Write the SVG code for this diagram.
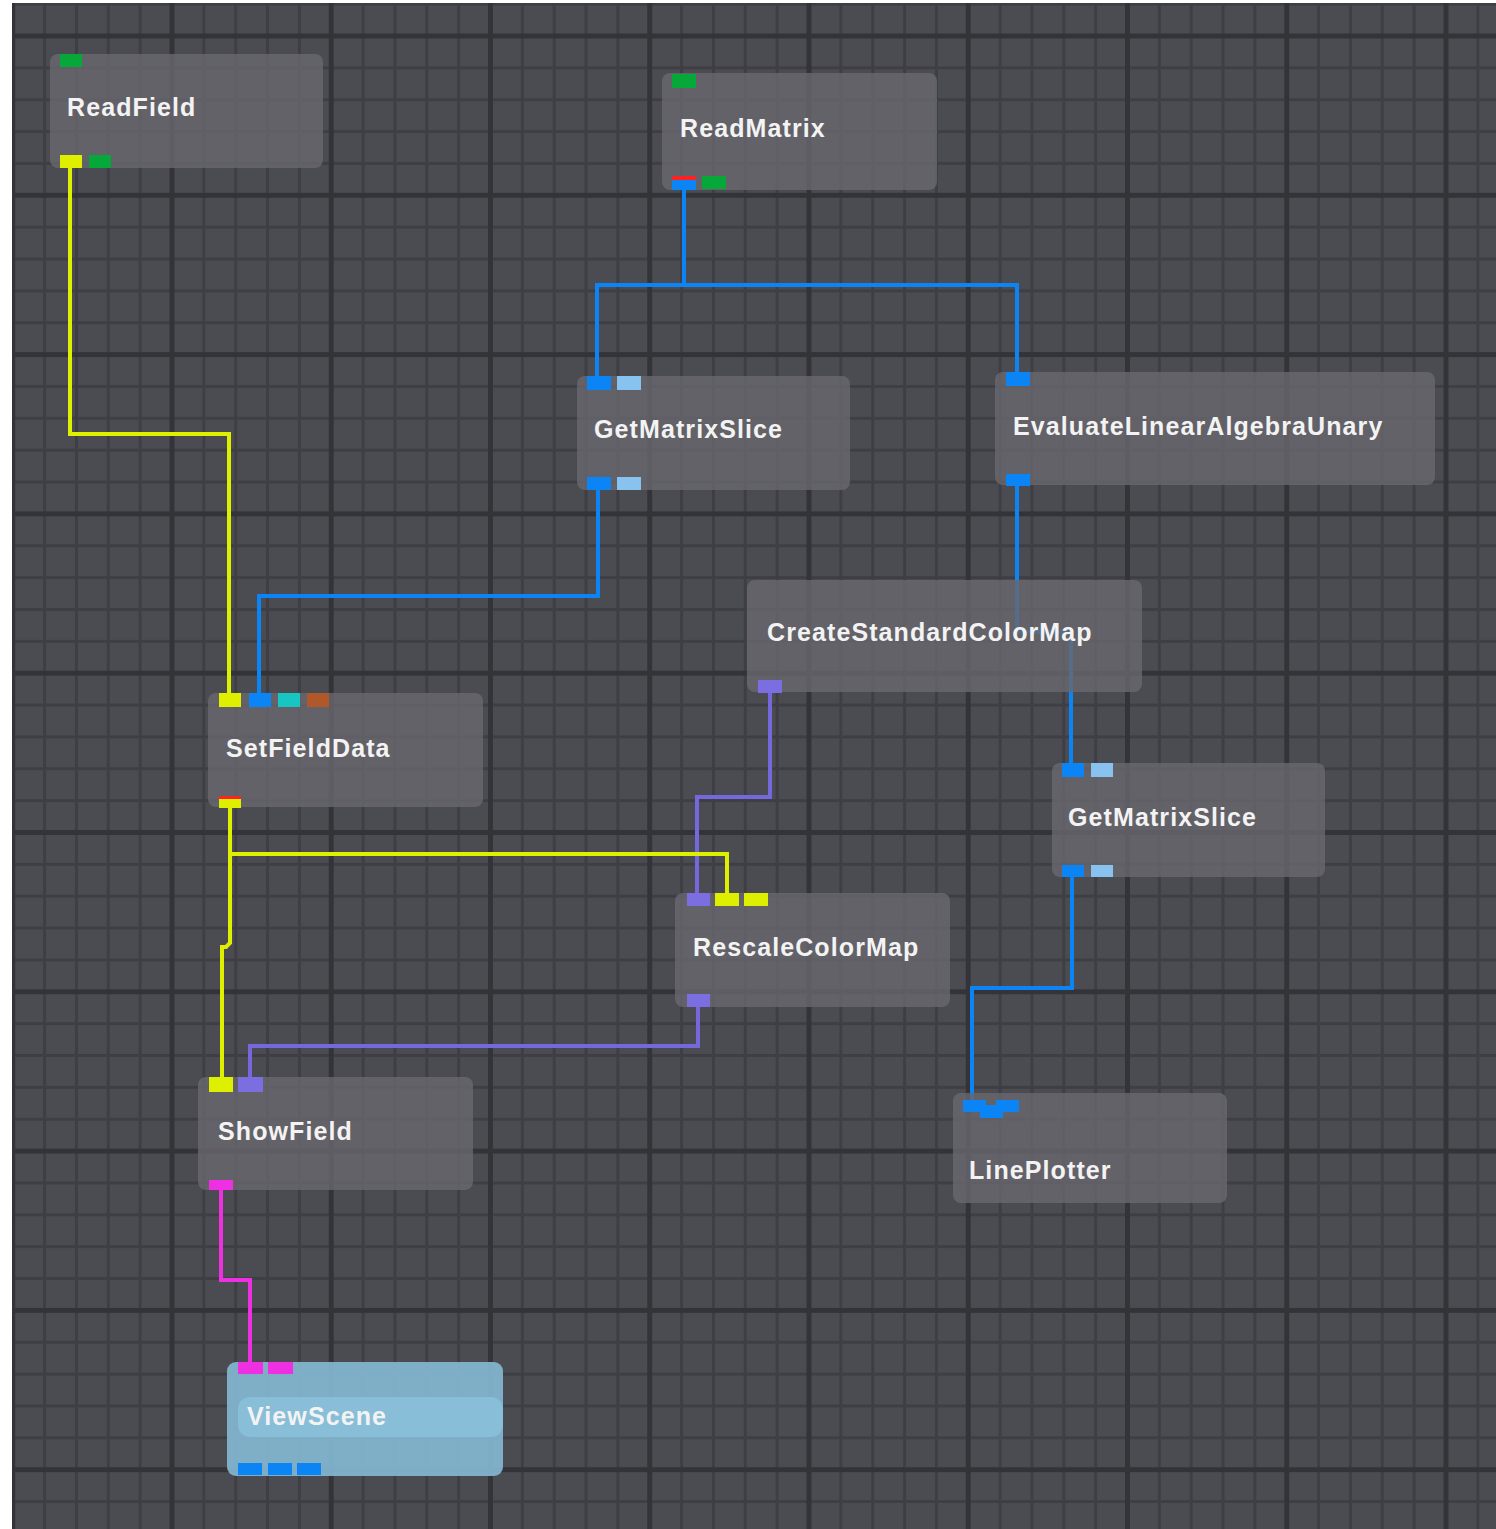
<svg xmlns="http://www.w3.org/2000/svg" width="1496" height="1529" viewBox="0 0 1496 1529">
<style>
.node{fill:#69686e;fill-opacity:0.8}
.lbl{font-family:"Liberation Sans",Arial,sans-serif;font-weight:bold;font-size:25px;letter-spacing:1.1px;fill:#f3f3f3}
.edge{fill:none;stroke-width:4;stroke-linejoin:miter}
.g{fill:#07a83a}.y{fill:#dfef00}.b{fill:#0b84f5}.lb{fill:#88c2ef}.c{fill:#17c5c3}.br{fill:#b0582a}.p{fill:#7a6ee0}.m{fill:#ee2fe2}.r{fill:#ff2222}
</style>
<defs>
<pattern id="minor" patternUnits="userSpaceOnUse" x="11.25" y="34.5" width="31.85" height="31.86">
<rect x="0" y="0" width="3" height="31.86" fill="#3e3e44"/>
<rect x="0" y="0" width="31.85" height="3" fill="#3e3e44"/>
</pattern>
<pattern id="major" patternUnits="userSpaceOnUse" x="10.25" y="33.5" width="159.25" height="159.3">
<rect x="0" y="0" width="5" height="159.3" fill="#333338"/>
<rect x="0" y="0" width="159.25" height="5" fill="#333338"/>
</pattern>
</defs>
<rect width="1496" height="1529" fill="#ffffff"/>
<g id="grid">
<rect x="12" y="3" width="1484" height="1526" fill="#4b4c52"/>
<rect x="12" y="3" width="1484" height="1526" fill="url(#minor)"/>
<rect x="12" y="3" width="1484" height="1526" fill="url(#major)"/>
</g>
<g id="connectors">
<path class="edge" stroke="#dfef00" d="M70,168 V434 H229 V693"/>
<path class="edge" stroke="#0b84f5" d="M684,190 V285"/>
<path class="edge" stroke="#0b84f5" d="M597,376 V285 H1017 V372"/>
<path class="edge" stroke="#0b84f5" d="M598,490 V596 H259 V693"/>
<path class="edge" stroke="#0b84f5" d="M1017,486 V632 H1071 V763"/>
<path class="edge" stroke="#7468dc" d="M770,693 V797 H697 V893"/>
<path class="edge" stroke="#dfef00" d="M230,808 V854 H727 V893"/>
<path class="edge" stroke="#dfef00" d="M230,854 V943 L226,947 H222 V1077"/>
<path class="edge" stroke="#7468dc" d="M698,1007 V1046 H250 V1077"/>
<path class="edge" stroke="#0b84f5" d="M1072,877 V988 H972 V1100"/>
<path class="edge" stroke="#ee2fe2" d="M221,1190 V1280 H250 V1362"/>
</g>
<g id="ReadField">
<rect class="node" x="50" y="54" width="273" height="114" rx="8"/>
<rect class="g" x="60" y="54" width="22" height="13"/>
<rect class="y" x="60" y="155" width="22" height="13"/>
<rect class="g" x="89" y="155" width="22" height="13"/>
<text class="lbl" x="67" y="116">ReadField</text>
</g>
<g id="ReadMatrix">
<rect class="node" x="662" y="73" width="275" height="117" rx="8"/>
<rect class="g" x="672" y="74" width="24" height="14"/>
<rect class="r" x="672" y="176" width="24" height="4"/>
<rect class="b" x="672" y="180" width="24" height="10"/>
<rect class="g" x="702" y="176" width="24" height="13"/>
<text class="lbl" x="680" y="137">ReadMatrix</text>
</g>
<g id="GetMatrixSlice1">
<rect class="node" x="577" y="376" width="273" height="114" rx="8"/>
<rect class="b" x="587" y="376" width="24" height="14"/>
<rect class="lb" x="617" y="376" width="24" height="14"/>
<rect class="b" x="587" y="477" width="24" height="13"/>
<rect class="lb" x="617" y="477" width="24" height="13"/>
<text class="lbl" x="594" y="438">GetMatrixSlice</text>
</g>
<g id="EvaluateLinearAlgebraUnary">
<rect class="node" x="995" y="372" width="440" height="113" rx="8"/>
<rect class="b" x="1006" y="372" width="24" height="14"/>
<rect class="b" x="1006" y="474" width="24" height="12"/>
<text class="lbl" x="1013" y="435">EvaluateLinearAlgebraUnary</text>
</g>
<g id="CreateStandardColorMap">
<rect class="node" x="747" y="580" width="395" height="112" rx="8"/>
<rect class="p" x="758" y="680" width="24" height="13"/>
<text class="lbl" x="767" y="641">CreateStandardColorMap</text>
</g>
<g id="SetFieldData">
<rect class="node" x="208" y="693" width="275" height="114" rx="8"/>
<rect class="y" x="219" y="693" width="22" height="14"/>
<rect class="b" x="249" y="693" width="22" height="14"/>
<rect class="c" x="278" y="693" width="22" height="14"/>
<rect class="br" x="307" y="693" width="22" height="14"/>
<rect class="r" x="219" y="796" width="22" height="3"/>
<rect class="y" x="219" y="799" width="22" height="9"/>
<text class="lbl" x="226" y="757">SetFieldData</text>
</g>
<g id="GetMatrixSlice2">
<rect class="node" x="1052" y="763" width="273" height="114" rx="8"/>
<rect class="b" x="1062" y="763" width="22" height="14"/>
<rect class="lb" x="1091" y="763" width="22" height="14"/>
<rect class="b" x="1062" y="865" width="22" height="12"/>
<rect class="lb" x="1091" y="865" width="22" height="12"/>
<text class="lbl" x="1068" y="826">GetMatrixSlice</text>
</g>
<g id="RescaleColorMap">
<rect class="node" x="675" y="893" width="275" height="114" rx="8"/>
<rect class="p" x="687" y="893" width="23" height="13"/>
<rect class="y" x="715" y="893" width="24" height="13"/>
<rect class="y" x="744" y="893" width="24" height="13"/>
<rect class="p" x="687" y="994" width="23" height="13"/>
<text class="lbl" x="693" y="956">RescaleColorMap</text>
</g>
<g id="ShowField">
<rect class="node" x="198" y="1077" width="275" height="113" rx="8"/>
<rect class="y" x="209" y="1077" width="24" height="15"/>
<rect class="p" x="238" y="1077" width="25" height="15"/>
<rect class="m" x="209" y="1180" width="24" height="10"/>
<text class="lbl" x="218" y="1140">ShowField</text>
</g>
<g id="LinePlotter">
<rect class="node" x="953" y="1093" width="274" height="110" rx="8"/>
<rect class="b" x="963" y="1100" width="23" height="12"/>
<rect class="b" x="996" y="1100" width="23" height="12"/>
<rect class="b" x="980" y="1105" width="23" height="13"/>
<text class="lbl" x="969" y="1179">LinePlotter</text>
</g>
<g id="ViewScene">
<rect x="227" y="1362" width="276" height="114" rx="9" fill="#82b4ce" fill-opacity="0.95"/>
<rect x="238" y="1397" width="265" height="40" rx="12" fill="#89bed8"/>
<rect class="m" x="238" y="1362" width="25" height="12"/>
<rect class="m" x="268" y="1362" width="25" height="12"/>
<rect class="b" x="238" y="1463" width="24" height="12"/>
<rect class="b" x="268" y="1463" width="24" height="12"/>
<rect class="b" x="297" y="1463" width="24" height="12"/>
<text class="lbl" x="247" y="1425">ViewScene</text>
</g>
</svg>
